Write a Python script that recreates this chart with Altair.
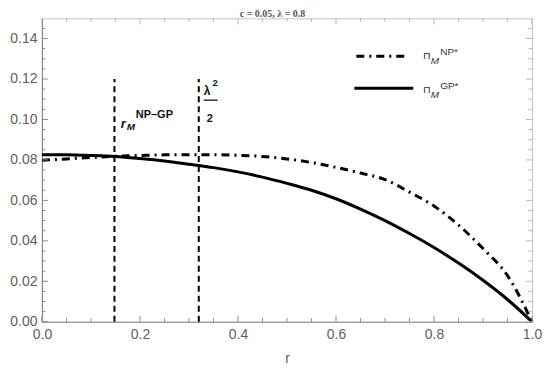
import altair as alt
import pandas as pd

# ---- data ----
r_vals = [0.0, 0.05, 0.1, 0.15, 0.2, 0.25, 0.3, 0.35, 0.4, 0.45, 0.5,
          0.55, 0.6, 0.65, 0.7, 0.75, 0.8, 0.85, 0.9, 0.95, 1.0]
gp_vals = [0.0826, 0.0825, 0.0822, 0.0817, 0.0807, 0.0795, 0.0779, 0.0762, 0.0741, 0.0715, 0.0684,
           0.0650, 0.0608, 0.0557, 0.0500, 0.0436, 0.0367, 0.0290, 0.0205, 0.0110, 0.0]
np_vals = [0.0798, 0.0805, 0.0812, 0.0818, 0.0822, 0.0825, 0.0826, 0.0826, 0.0823, 0.0817, 0.0805,
           0.0787, 0.0763, 0.0735, 0.0703, 0.0641, 0.0572, 0.0478, 0.0362, 0.0228, 0.0]
vline_r = [0.148, 0.32]
vline_top = [0.12, 0.12]
x_major_ticks = [0.0, 0.2, 0.4, 0.6, 0.8, 1.0]
x_minor_ticks = [0.05, 0.1, 0.15, 0.25, 0.3, 0.35, 0.45, 0.5, 0.55, 0.65, 0.7, 0.75, 0.85, 0.9, 0.95]
y_major_ticks = [0.0, 0.02, 0.04, 0.06, 0.08, 0.10, 0.12, 0.14]
y_minor_ticks = [0.005, 0.01, 0.015, 0.025, 0.03, 0.035, 0.045, 0.05, 0.055, 0.065, 0.07, 0.075,
                 0.085, 0.09, 0.095, 0.105, 0.11, 0.115, 0.125, 0.13, 0.135, 0.145]

W, H = 491, 304
FONT = "Liberation Sans"
LABEL_COLOR = "#5e5e5e"

curves = pd.DataFrame({"r": r_vals, "gp": gp_vals, "np": np_vals})
vlines = pd.DataFrame({"r": vline_r, "top": vline_top, "bottom": [0.0, 0.0]})
xmaj = pd.DataFrame({"t": x_major_ticks})
xmin = pd.DataFrame({"t": x_minor_ticks})
ymaj = pd.DataFrame({"t": y_major_ticks})
ymin = pd.DataFrame({"t": y_minor_ticks})

xs = alt.Scale(domain=[0, 1], nice=False, zero=False)
ys = alt.Scale(domain=[0, 0.15], nice=False, zero=False)

x_axis = alt.Axis(values=x_major_ticks, format=".1f", title="r", ticks=False, grid=False,
                  labelFlush=False, labelOverlap=False,
                  domainColor="#8a8a8a", domainWidth=1.2, labelFont=FONT, labelFontSize=14,
                  labelColor=LABEL_COLOR, labelPadding=6, titleFont=FONT, titleFontSize=14,
                  titleFontWeight="normal", titleColor=LABEL_COLOR, titlePadding=10)
y_axis = alt.Axis(values=y_major_ticks, format=".2f", title="", ticks=False, grid=False,
                  labelFlush=False, labelOverlap=False,
                  domainColor="#8a8a8a", domainWidth=1.2, labelFont=FONT, labelFontSize=14,
                  labelColor=LABEL_COLOR, labelPadding=5)


def X(field):
    return alt.X(field, type="quantitative", scale=xs, axis=x_axis)


def Y(field):
    return alt.Y(field, type="quantitative", scale=ys, axis=y_axis)


gp_line = alt.Chart(curves).mark_line(color="black", strokeWidth=3, interpolate="monotone").encode(
    x=X("r"), y=Y("gp"))
np_line = alt.Chart(curves).mark_line(color="black", strokeWidth=3, strokeDash=[8, 5, 2, 5],
                                      interpolate="monotone").encode(x=X("r"), y=Y("np"))
vrules = alt.Chart(vlines).mark_rule(color="black", strokeWidth=2, strokeDash=[6, 4]).encode(
    x=X("r"), y=Y("bottom"), y2="top:Q")

TICK_C = "#8a8a8a"
TICK_C2 = "#b5b5b5"


def xticks(df, length, bottom, color):
    if bottom:
        yy, yy2 = H, H - length
    else:
        yy, yy2 = 0, length
    return alt.Chart(df).mark_rule(color=color, strokeWidth=1).encode(
        x=X("t"), y=alt.value(yy), y2=alt.value(yy2))


def yticks(df, length, left, color):
    if left:
        xx, xx2 = 0, length
    else:
        xx, xx2 = W, W - length
    return alt.Chart(df).mark_rule(color=color, strokeWidth=1).encode(
        y=Y("t"), x=alt.value(xx), x2=alt.value(xx2))


ticks = [
    xticks(xmaj, 6, True, TICK_C), xticks(xmin, 3.5, True, TICK_C),
    xticks(xmaj, 6, False, TICK_C2), xticks(xmin, 3.5, False, TICK_C2),
    yticks(ymaj, 6, True, TICK_C), yticks(ymin, 3.5, True, TICK_C),
    yticks(ymaj, 6, False, TICK_C2), yticks(ymin, 3.5, False, TICK_C2),
]

ONE = alt.Data(values=[{}])


def txt(s, x, y, size, style="normal", weight="normal", font=FONT, color="#222",
        align="left", baseline="alphabetic"):
    return alt.Chart(ONE).mark_text(text=s, fontSize=size, fontStyle=style, fontWeight=weight,
                                    font=font, color=color, align=align, baseline=baseline).encode(
        x=alt.value(x), y=alt.value(y))


def hline(x1, x2, y, width, dash=None, color="black"):
    kw = dict(color=color, strokeWidth=width)
    if dash:
        kw["strokeDash"] = dash
    return alt.Chart(ONE).mark_rule(**kw).encode(x=alt.value(x1), x2=alt.value(x2), y=alt.value(y))


annotations = [
    # title
    txt("c = 0.05, \u03bb = 0.8", 231, -4.5, 10, weight="bold", font="Liberation Serif",
        color="#555", align="center", baseline="middle"),
    # legend
    hline(315, 367, 38, 3, dash=[8, 5, 2, 5]),
    hline(313, 372, 70, 3),
    txt("\u03a0", 382, 41, 10, color="#333"),
    txt("M", 389.5, 46, 10, style="italic", color="#333"),
    txt("NP*", 399, 37, 10, color="#333"),
    txt("\u03a0", 382, 75, 10, color="#333"),
    txt("M", 389.5, 80, 10, style="italic", color="#333"),
    txt("GP*", 399, 71, 10, color="#333"),
    # r_M^{NP-GP}
    txt("r", 79, 110, 13, style="italic", weight="bold", color="#111"),
    txt("M", 85, 112, 10, style="italic", weight="bold", color="#111"),
    txt("NP\u2013GP", 94, 100, 11, weight="bold", color="#111"),
    # lambda^2 / 2
    txt("\u03bb", 162, 77, 12, weight="bold", color="#111"),
    txt("2", 171, 68, 9.5, weight="bold", color="#111"),
    hline(162, 176, 82, 1.3, color="#111"),
    txt("2", 165, 104, 11, weight="bold", color="#111"),
]

chart = alt.layer(gp_line, np_line, vrules, *ticks, *annotations).properties(
    width=W, height=H,
    padding={"left": 34, "top": 10, "right": 10, "bottom": 45},
    autosize=alt.AutoSizeParams(type="none"),
).configure_view(stroke="#c4c4c4", strokeWidth=1)

chart.save("out.html", embed_options={"renderer": "svg", "actions": False})
